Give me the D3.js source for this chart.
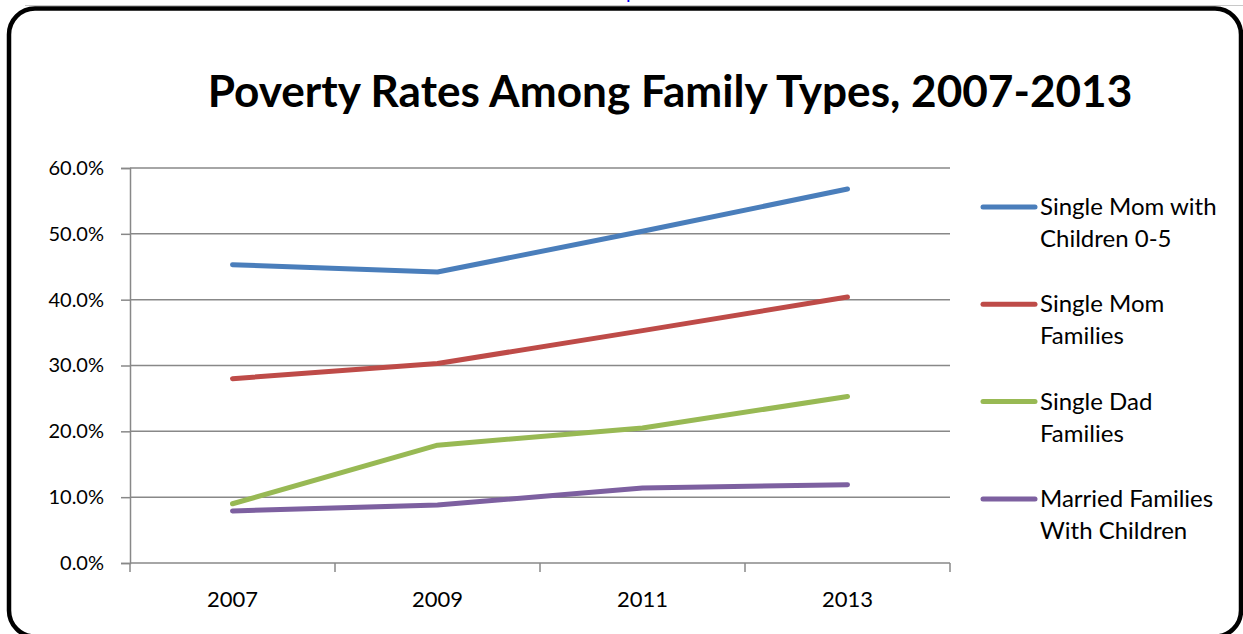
<!DOCTYPE html>
<html>
<head>
<meta charset="utf-8">
<script src="https://cdn.jsdelivr.net/npm/d3@7"></script>
<style>
  html, body { margin: 0; padding: 0; background: #fff; }
  svg { display: block; }
  text { font-family: Lato, "Open Sans", "Liberation Sans", sans-serif; fill: #000; }
</style>
</head>
<body>
<svg id="chart" width="1243" height="634"></svg>
<script>
// Poverty rates (%) by family type
const years = ["2007", "2009", "2011", "2013"];
const singleMomYoung = [45.3, 44.2, 50.4, 56.8];
const singleMom = [28.0, 30.3, 35.3, 40.4];
const singleDad = [9.0, 17.9, 20.5, 25.3];
const married = [7.9, 8.8, 11.4, 11.9];
const seriesNames = [
  ["Single Mom with", "Children 0-5"],
  ["Single Mom", "Families"],
  ["Single Dad", "Families"],
  ["Married Families", "With Children"]
];
const seriesColors = ["#4A7EBB", "#BE4B48", "#98B954", "#7D60A0"];
const yTicks = [0, 10, 20, 30, 40, 50, 60];

const series = [singleMomYoung, singleMom, singleDad, married].map((values, i) => ({
  name: seriesNames[i], color: seriesColors[i], values
}));

const svg = d3.select("#chart");

// link text running off the top of the page
svg.append("text").attr("x", 626).attr("y", -1).attr("font-size", 20)
  .style("fill", "#0000ff").text("p");

// thin rule above the frame
svg.append("line").attr("x1", 25).attr("x2", 1243).attr("y1", 5.5).attr("y2", 5.5)
  .attr("stroke", "#c8c8c8").attr("stroke-width", 1);

// rounded frame
svg.append("rect").attr("x", 9).attr("y", 8.5).attr("width", 1232).attr("height", 628)
  .attr("rx", 26).attr("fill", "none").attr("stroke", "#000").attr("stroke-width", 4.5);

// title
const title = svg.append("text").attr("x", 670).attr("y", 107)
  .attr("text-anchor", "middle").attr("font-weight", "bold").attr("font-size", 38)
  .text("Poverty Rates Among Family Types, 2007-2013");
const tw = title.node().getComputedTextLength();
title.attr("font-size", 38 * 925 / tw);

// plot area
const plotLeft = 130, plotRight = 950, plotTop = 168, plotBottom = 563;
const x = d3.scaleBand().domain(years).range([plotLeft, plotRight]);
const y = d3.scaleLinear().domain([0, 60]).range([plotBottom, plotTop]);

// horizontal gridlines
svg.append("g").selectAll("line").data(yTicks.filter(d => d > 0)).join("line")
  .attr("x1", plotLeft).attr("x2", plotRight)
  .attr("y1", d => y(d)).attr("y2", d => y(d))
  .attr("stroke", "#888").attr("stroke-width", 1.5);

// y axis
const yAxis = svg.append("g").attr("transform", `translate(${plotLeft},0)`)
  .call(d3.axisLeft(y).tickValues(yTicks).tickSize(9).tickPadding(17)
    .tickFormat(d => d.toFixed(1) + "%"));
yAxis.select(".domain").attr("stroke", "#888").attr("stroke-width", 1.5);
yAxis.selectAll(".tick line").attr("stroke", "#888").attr("stroke-width", 1.5);
yAxis.selectAll(".tick text").attr("font-size", 20).style("font-family", "Lato, 'Open Sans', sans-serif").attr("fill", "#000");

// x axis line and boundary ticks
const xg = svg.append("g");
xg.append("line").attr("x1", plotLeft).attr("x2", plotRight).attr("y1", plotBottom).attr("y2", plotBottom)
  .attr("stroke", "#888").attr("stroke-width", 1.5);
const bounds = years.map(d => x(d)).concat([x(years[years.length - 1]) + x.bandwidth()]);
xg.selectAll("line.tk").data(bounds).join("line").attr("class", "tk")
  .attr("x1", d => d).attr("x2", d => d).attr("y1", plotBottom).attr("y2", plotBottom + 9)
  .attr("stroke", "#888").attr("stroke-width", 1.5);
xg.selectAll("text").data(years).join("text")
  .attr("x", d => x(d) + x.bandwidth() / 2).attr("y", 607)
  .attr("text-anchor", "middle").attr("font-size", 22).text(d => d);

// series lines
const line = d3.line()
  .x((d, i) => x(years[i]) + x.bandwidth() / 2)
  .y(d => y(d));
svg.append("g").selectAll("path").data(series).join("path")
  .attr("d", d => line(d.values))
  .attr("fill", "none").attr("stroke", d => d.color).attr("stroke-width", 5)
  .attr("stroke-linejoin", "round").attr("stroke-linecap", "round");

// legend
const legend = svg.append("g").selectAll("g").data(series).join("g")
  .attr("transform", (d, i) => `translate(983,${207 + i * 97.3})`);
legend.append("line").attr("x1", 0).attr("x2", 52).attr("y1", 0).attr("y2", 0)
  .attr("stroke", d => d.color).attr("stroke-width", 5).attr("stroke-linecap", "round");
legend.append("text").attr("x", 57).attr("y", 8).attr("font-size", 24)
  .selectAll("tspan").data(d => d.name).join("tspan")
  .attr("x", 57).attr("dy", (d, i) => i === 0 ? 0 : 32).text(d => d);
</script>
</body>
</html>
